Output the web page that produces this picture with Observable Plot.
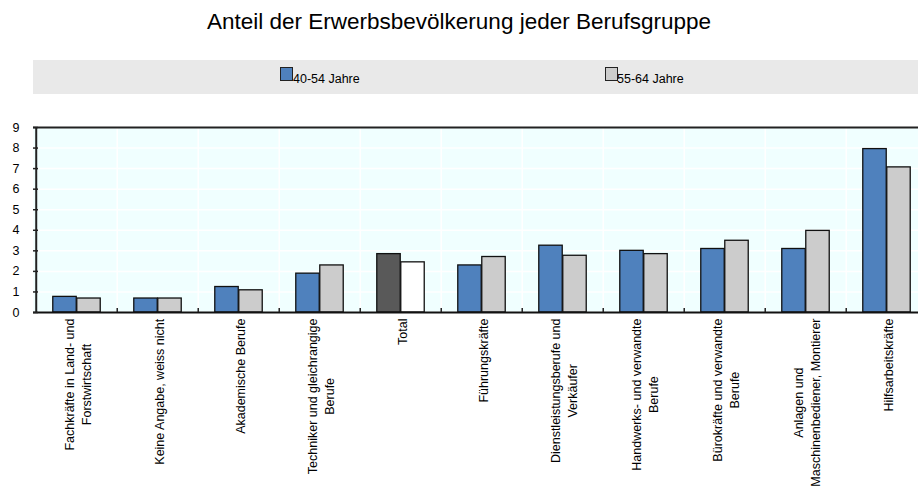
<!DOCTYPE html>
<html>
<head>
<meta charset="utf-8">
<script src="https://cdn.jsdelivr.net/npm/d3@7"></script>
<script src="https://cdn.jsdelivr.net/npm/@observablehq/plot@0.6"></script>
<style>
  html, body { margin: 0; padding: 0; background: #fff; overflow: hidden; }
  #wrap { position: relative; width: 918px; height: 486px; font-family: "Liberation Sans", Arial, sans-serif; color: #000; }
  #title { position: absolute; left: 0; top: 11px; width: 918px; text-align: center; font-size: 22.5px; line-height: 22px; }
  #legend { position: absolute; left: 33px; top: 60px; width: 885px; height: 34px; background: #e9e9e9; }
  .sw { position: absolute; width: 13px; height: 14px; box-sizing: border-box; border: 1.3px solid #222; }
  .lt { position: absolute; font-size: 12.5px; line-height: 12.5px; white-space: nowrap; }
  #chart { position: absolute; left: 0; top: 100px; }
</style>
</head>
<body>
<div id="wrap">
  <div id="title"></div>
  <div id="legend"></div>
  <div id="chart"></div>
</div>
<script>
const titleText = "Anteil der Erwerbsbevölkerung jeder Berufsgruppe";
const categories = [
  "Fachkräfte in Land- und\nForstwirtschaft",
  "Keine Angabe, weiss nicht",
  "Akademische Berufe",
  "Techniker und gleichrangige\nBerufe",
  "Total",
  "Führungskräfte",
  "Dienstleistungsberufe und\nVerkäufer",
  "Handwerks- und verwandte\nBerufe",
  "Bürokräfte und verwandte\nBerufe",
  "Anlagen und\nMaschinenbediener, Montierer",
  "Hilfsarbeitskräfte"
];
const seriesNames = ["40-54 Jahre", "55-64 Jahre"];
const values4054 = [0.76, 0.68, 1.24, 1.89, 2.84, 2.29, 3.25, 3.00, 3.09, 3.09, 7.95];
const values5564 = [0.68, 0.68, 1.08, 2.29, 2.44, 2.70, 2.76, 2.84, 3.49, 3.97, 7.06];
const yTicks = [0, 1, 2, 3, 4, 5, 6, 7, 8, 9];
const totalLabel = "Total";

const colors = {s1: "#4f81bd", s2: "#cccccc", total1: "#595959", total2: "#ffffff"};

// title & legend
document.getElementById("title").textContent = titleText;
const legend = document.getElementById("legend");
const legendItems = [
  {name: seriesNames[0], color: colors.s1, sx: 247, tx: 260},
  {name: seriesNames[1], color: colors.s2, sx: 572, tx: 584}
];
for (const it of legendItems) {
  const sw = document.createElement("div");
  sw.className = "sw";
  sw.style.left = it.sx + "px"; sw.style.top = "7px"; sw.style.background = it.color;
  legend.appendChild(sw);
  const t = document.createElement("div");
  t.className = "lt";
  t.style.left = it.tx + "px"; t.style.top = "12.5px";
  t.textContent = it.name;
  legend.appendChild(t);
}

const data1 = categories.map((c, i) => ({cat: c, v: values4054[i]}));
const data2 = categories.map((c, i) => ({cat: c, v: values5564[i]}));

const W = 918, H = 386, mL = 33, mT = 27, mB = 174;
const xRange = [33, 930];
const bw = (xRange[1] - xRange[0]) / categories.length;
const barW = 24;

const plot = Plot.plot({
  width: W,
  height: H,
  marginLeft: mL,
  marginRight: 0,
  marginTop: mT,
  marginBottom: mB,
  style: {fontFamily: "Liberation Sans, Arial, sans-serif", fontSize: "12.5px", color: "#000", background: "transparent", overflow: "visible"},
  x: {domain: categories, range: xRange, padding: 0, axis: null},
  y: {domain: [0, 9], axis: null, label: null},
  marks: [
    Plot.frame({fill: "#f0ffff", stroke: "none"}),
    Plot.ruleY(yTicks, {y: d => d, stroke: "#ffffff", strokeWidth: 1.5}),
    Plot.ruleX(categories.slice(1), {x: d => d, dx: -bw / 2, stroke: "#ffffff", strokeWidth: 1.5}),
    Plot.barY(data1, {
      x: "cat", y: "v",
      fill: d => d.cat === totalLabel ? colors.total1 : colors.s1,
      stroke: "#111", strokeWidth: 1.3,
      insetLeft: bw / 2 - barW, insetRight: bw / 2
    }),
    Plot.barY(data2, {
      x: "cat", y: "v",
      fill: d => d.cat === totalLabel ? colors.total2 : colors.s2,
      stroke: "#111", strokeWidth: 1.3,
      insetLeft: bw / 2, insetRight: bw / 2 - barW
    }),
    Plot.ruleY([9], {stroke: "#222", strokeWidth: 2}),
    Plot.ruleY([0], {stroke: "#111", strokeWidth: 2}),
    Plot.ruleX([categories[0]], {x: d => d, dx: -bw / 2, stroke: "#222", strokeWidth: 2}),
    Plot.ruleX(categories.slice(1), {x: d => d, dx: -bw / 2, y1: 0, y2: 0.2, stroke: "#222", strokeWidth: 1.5}),
    Plot.tickY(yTicks, {y: d => d, insetRight: W - mL - 5, stroke: "#222", strokeWidth: 1.5}),
    Plot.axisY({ticks: yTicks, tickSize: 0, tickPadding: 14, tickFormat: d => String(d), fill: "#000", label: null}),
    Plot.text(categories, {
      x: d => d, frameAnchor: "bottom", dy: 6,
      text: d => d, rotate: -90, textAnchor: "middle", lineAnchor: "middle",
      lineHeight: 1.4, fill: "#000"
    })
  ]
});
document.getElementById("chart").appendChild(plot);

// place each rotated label so its longest line starts at the axis, lines centered
plot.querySelectorAll("text").forEach(t => {
  const tr = t.getAttribute("transform") || "";
  if (!tr.includes("rotate")) return;
  t.setAttribute("text-anchor", "middle");
  const w = t.getBBox().width;
  t.setAttribute("transform", tr + ` translate(${-w / 2},0)`);
});
</script>
</body>
</html>
